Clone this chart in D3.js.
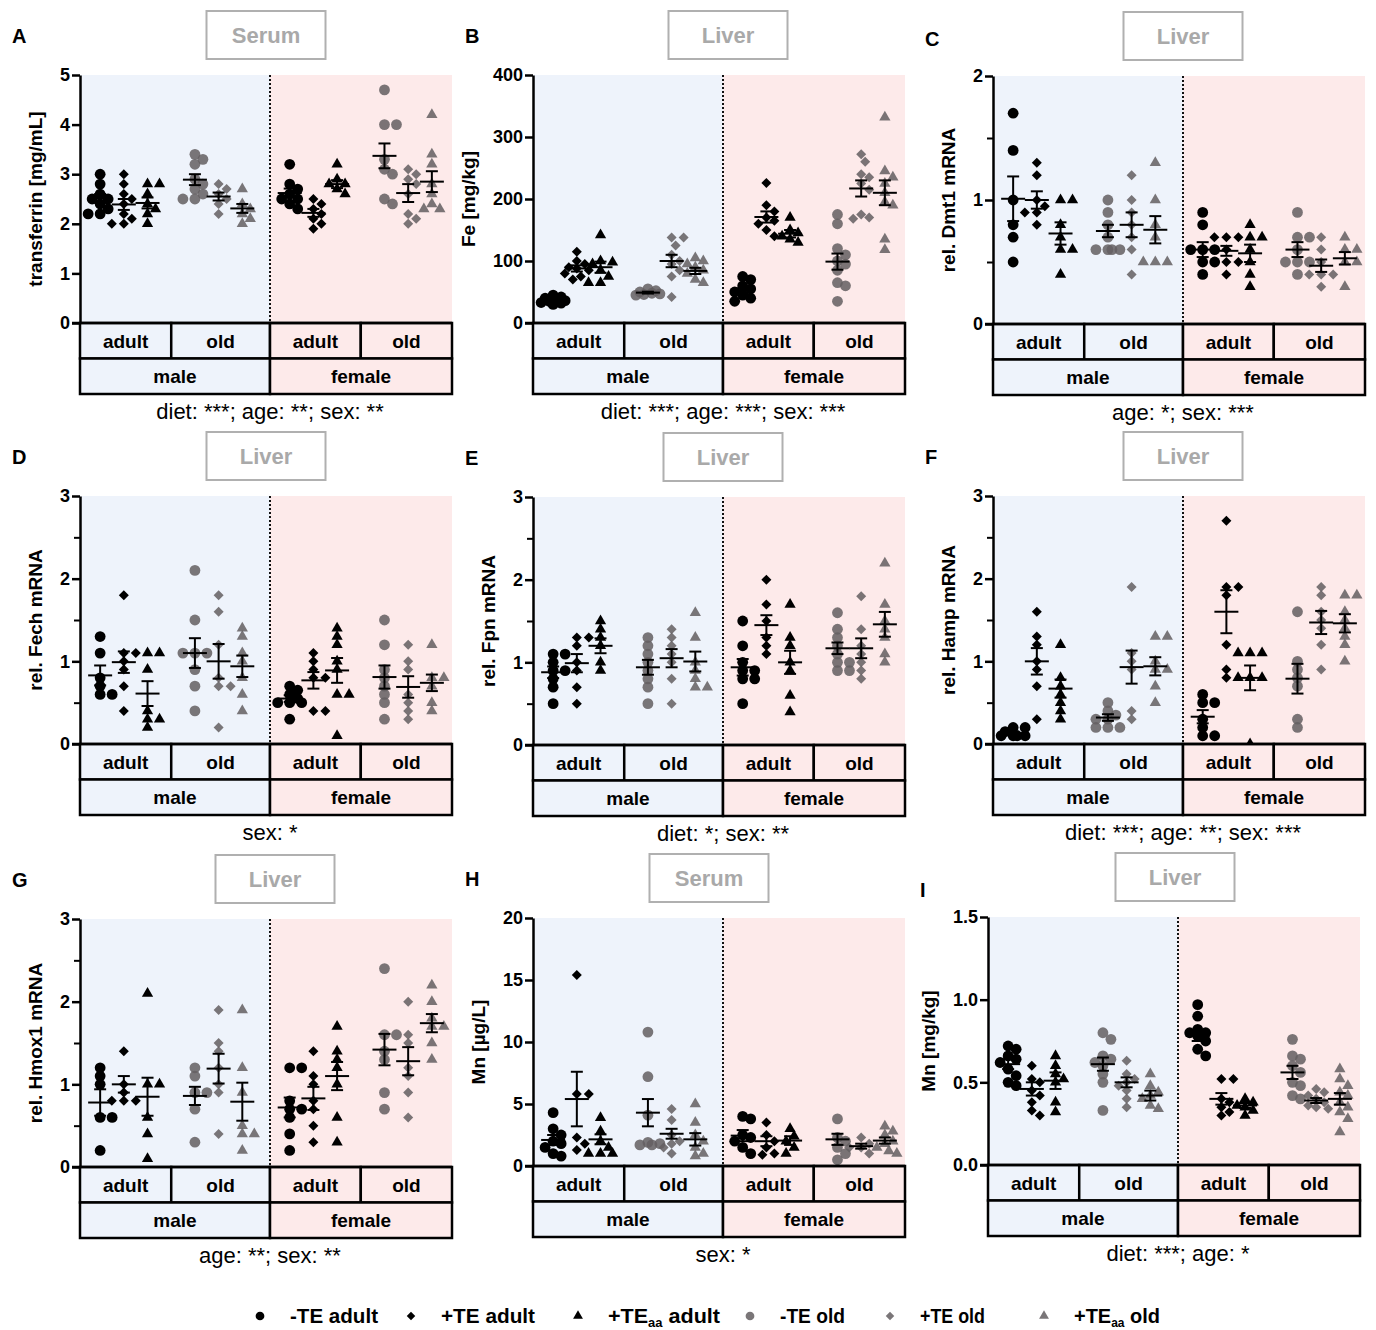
<!DOCTYPE html>
<html>
<head>
<meta charset="utf-8">
<script src="https://cdn.jsdelivr.net/npm/d3@7"></script>
<style>
  body { margin: 0; background: #fff; }
  svg { display: block; }
  text { font-family: "Liberation Sans", Arial, sans-serif; }
</style>
</head>
<body>
<svg id="chart" width="1376" height="1330"></svg>
<script>
// x axis groups: sex x age, three diets each
var sexes = ["male", "female"];
var ages = ["adult", "old"];
var diets = ["-TE", "+TE", "+TEaa"];
// order of the 12 series in every panel:
// male adult (-TE,+TE,+TEaa), male old, female adult, female old

// A - serum transferrin [mg/mL]
var transferrin = [
  [3.0,2.8,2.6,2.5,2.5,2.4,2.3,2.2,2.2], [3.0,2.8,2.6,2.5,2.4,2.2,2.1,2.0,2.0], [2.8,2.8,2.6,2.4,2.3,2.2,2.0],
  [3.4,3.3,3.2,2.9,2.8,2.7,2.6,2.5,2.5], [2.8,2.7,2.6,2.5,2.4,2.2], [2.7,2.4,2.3,2.2,2.1,2.0],
  [3.2,2.8,2.7,2.6,2.5,2.5,2.4,2.3], [2.5,2.4,2.3,2.2,2.1,2.0,1.9], [3.2,2.9,2.8,2.8,2.7,2.6],
  [4.7,4.0,4.0,3.3,3.1,3.0,2.5,2.4], [3.1,3.0,2.9,2.8,2.6,2.2,2.1,2.0], [4.2,3.4,3.2,2.8,2.6,2.4,2.3,2.3]];
var transferrinMean = [2.51,2.39,2.42,2.89,2.55,2.31,2.62,2.22,2.8,3.37,2.62,2.85];
var transferrinSem = [0.09,0.11,0.11,0.11,0.08,0.09,0.09,0.08,0.08,0.25,0.18,0.21];

// B - liver Fe [mg/kg]
var liverFe = [
  [45,42,40,38,36,35,33,32,30], [115,100,95,90,88,85,80,75,70], [142,100,98,95,85,75,65,65],
  [55,52,50,48,47,46,45], [138,138,125,110,100,95,85,75,42], [105,100,95,90,85,80,70,65],
  [75,70,60,55,50,45,40,35], [226,190,180,170,165,160,150,140], [170,150,145,140,135,130],
  [175,160,120,110,100,95,85,65,60,35], [272,260,240,235,225,215,175,170,168], [332,245,235,225,210,195,190,135,118]];
var liverFeMean = [35,88,90,49,100,84,52,171,144,99,217,210];
var liverFeSem = [2,5,9,1.5,10,5,4,9,6,13,13,20];

// C - rel. Dmt1 mRNA
var dmt1 = [
  [1.7,1.4,1.0,0.8,0.7,0.5], [1.3,1.2,1.0,0.95,0.9,0.9,0.8], [1.0,1.0,0.8,0.7,0.6,0.6,0.4],
  [1.0,0.9,0.8,0.7,0.6,0.6,0.6,0.6], [1.2,1.0,0.9,0.8,0.7,0.6,0.4], [1.3,1.0,0.8,0.7,0.5,0.5,0.5],
  [0.9,0.8,0.6,0.6,0.6,0.5,0.5,0.4], [0.7,0.7,0.7,0.6,0.5,0.5,0.4], [0.8,0.7,0.7,0.6,0.5,0.4,0.3],
  [0.9,0.7,0.7,0.6,0.5,0.5,0.5,0.4], [0.7,0.6,0.5,0.4,0.4,0.4,0.3], [0.7,0.6,0.6,0.5,0.5,0.3]];
var dmt1Mean = [1.01,1.0,0.73,0.75,0.8,0.76,0.6,0.59,0.57,0.6,0.47,0.53];
var dmt1Sem = [0.18,0.07,0.09,0.05,0.1,0.11,0.06,0.04,0.07,0.06,0.05,0.05];

// D - rel. Fech mRNA
var fech = [
  [1.3,1.1,0.8,0.7,0.6,0.6], [1.8,1.1,1.1,1.0,0.9,0.7,0.4], [1.1,1.1,0.9,0.4,0.3,0.3,0.2],
  [2.1,1.5,1.1,1.1,1.1,0.9,0.7,0.4], [1.8,1.6,1.2,0.8,0.7,0.7,0.2], [1.4,1.3,1.1,1.0,0.8,0.6,0.4],
  [0.7,0.65,0.6,0.55,0.5,0.5,0.5,0.3], [1.1,1.0,0.9,0.8,0.8,0.4,0.4], [1.4,1.3,1.2,1.0,0.9,0.6,0.6,0.1],
  [1.5,1.2,0.9,0.8,0.7,0.6,0.5,0.3], [1.2,1.0,0.9,0.6,0.5,0.4,0.3], [1.2,0.8,0.8,0.7,0.5,0.4]];
var fechMean = [0.83,0.99,0.61,1.1,1.0,0.94,0.55,0.77,0.89,0.81,0.69,0.74];
var fechSem = [0.12,0.13,0.15,0.18,0.21,0.13,0.04,0.1,0.15,0.14,0.13,0.1];

// E - rel. Fpn mRNA
var fpn = [
  [1.1,1.1,1.0,0.9,0.9,0.8,0.7,0.5], [1.3,1.3,1.2,1.0,0.9,0.7,0.5], [1.5,1.4,1.3,1.2,1.0,0.9],
  [1.3,1.2,1.1,1.0,0.9,0.8,0.7,0.5], [1.4,1.3,1.2,1.1,1.0,0.8,0.5], [1.6,1.3,1.0,0.9,0.8,0.7,0.7],
  [1.5,1.2,1.0,0.9,0.9,0.8,0.8,0.5], [2.0,1.7,1.5,1.3,1.2,1.1], [1.7,1.3,1.2,1.0,0.9,0.6,0.4],
  [1.6,1.4,1.3,1.2,1.1,1.0,1.0,0.9,0.9], [1.8,1.4,1.2,1.1,1.0,0.9,0.8], [2.2,1.7,1.5,1.4,1.3,1.1,1.0]];
var fpnMean = [0.88,0.99,1.2,0.94,1.05,1.01,0.94,1.45,1.0,1.17,1.17,1.46];
var fpnSem = [0.07,0.11,0.09,0.09,0.11,0.12,0.1,0.12,0.14,0.07,0.12,0.15];

// F - rel. Hamp mRNA
var hamp = [
  [0.2,0.2,0.15,0.1,0.1,0.1,0.1], [1.6,1.3,1.2,1.0,0.9,0.7,0.3], [1.2,0.8,0.7,0.6,0.5,0.4,0.3],
  [0.5,0.4,0.35,0.3,0.3,0.2,0.2,0.2], [1.9,1.1,1.0,0.9,0.4,0.3], [1.3,1.3,1.0,0.9,0.9,0.7,0.5],
  [0.6,0.5,0.5,0.3,0.2,0.1,0.1], [2.7,1.9,1.9,1.8,1.2,0.9,0.8], [1.1,1.1,1.1,0.8,0.8,0.8,0.0],
  [1.6,1.0,0.9,0.8,0.7,0.3,0.2], [1.9,1.8,1.6,1.5,1.4,1.2,0.9], [1.8,1.8,1.6,1.5,1.4,1.3,1.2,1.0]];
var hampMean = [0.13,1.0,0.67,0.32,0.93,0.94,0.33,1.6,0.8,0.79,1.47,1.46];
var hampSem = [0.02,0.16,0.11,0.04,0.2,0.11,0.08,0.26,0.15,0.18,0.14,0.11];

// G - rel. Hmox1 mRNA
var hmox1 = [
  [1.2,1.1,1.0,0.6,0.6,0.2], [1.4,1.0,0.9,0.8,0.8,0.8], [2.1,1.0,1.0,0.6,0.4,0.1],
  [1.2,1.1,0.9,0.9,0.7,0.3], [1.9,1.5,1.4,1.2,1.0,0.9,0.4], [1.9,1.2,0.9,0.5,0.4,0.4,0.2],
  [1.2,1.2,0.8,0.7,0.7,0.6,0.4,0.2], [1.4,1.1,1.0,0.8,0.7,0.5,0.3], [1.7,1.4,1.3,1.2,1.0,0.6,0.3],
  [2.4,1.6,1.6,1.4,1.3,0.9,0.7], [2.0,1.6,1.5,1.2,1.1,0.9,0.6], [2.2,2.0,1.8,1.7,1.7,1.5,1.3]];
var hmox1Mean = [0.78,1.0,0.85,0.86,1.19,0.79,0.72,0.83,1.1,1.42,1.28,1.74];
var hmox1Sem = [0.16,0.1,0.23,0.11,0.18,0.23,0.12,0.14,0.17,0.19,0.17,0.11];

// H - serum Mn [µg/L]
var serumMn = [
  [4.3,3.0,2.5,2.0,1.8,1.5,1.0,0.8], [15.4,5.8,5.8,2.3,1.8,1.3], [3.9,2.8,2.0,1.5,1.0,1.0,1.0],
  [10.8,7.2,4.1,1.9,1.8,1.7,1.7], [4.6,3.7,2.5,2.0,1.8,1.5,1.0], [5.0,3.5,2.5,2.0,1.5,1.0,0.8],
  [4.0,3.8,2.5,2.3,2.0,1.5,1.0], [3.5,2.5,2.0,1.5,1.0,0.9], [3.0,2.4,2.0,1.5,1.0],
  [3.8,2.3,2.0,1.5,1.0,0.5], [2.3,1.8,1.5,1.5,1.0], [3.2,2.8,2.5,2.0,1.8,1.5,1.2,1.0]];
var serumMnMean = [2.1,5.4,2.15,4.3,2.6,2.15,2.45,2.0,2.05,2.15,1.6,2.05];
var serumMnSem = [0.4,2.2,0.4,1.1,0.4,0.5,0.45,0.4,0.35,0.45,0.2,0.25];

// I - liver Mn [mg/kg]
var liverMn = [
  [0.72,0.7,0.66,0.64,0.62,0.58,0.54,0.5,0.48], [0.6,0.52,0.5,0.45,0.42,0.38,0.33,0.3], [0.66,0.6,0.55,0.52,0.5,0.38,0.32],
  [0.8,0.76,0.66,0.64,0.62,0.6,0.55,0.5,0.33], [0.63,0.55,0.52,0.5,0.48,0.45,0.4,0.35], [0.55,0.48,0.44,0.42,0.4,0.36,0.34],
  [0.97,0.9,0.82,0.8,0.8,0.78,0.75,0.7,0.66], [0.52,0.52,0.4,0.38,0.35,0.32,0.3], [0.4,0.38,0.36,0.35,0.33,0.3],
  [0.76,0.66,0.64,0.6,0.56,0.5,0.48,0.42,0.4], [0.46,0.44,0.42,0.4,0.38,0.36,0.35,0.34], [0.58,0.52,0.48,0.44,0.42,0.38,0.35,0.32,0.28,0.2]];
var liverMnMean = [0.61,0.46,0.51,0.61,0.5,0.42,0.78,0.4,0.36,0.56,0.39,0.4];
var liverMnSem = [0.03,0.04,0.05,0.04,0.03,0.03,0.03,0.035,0.015,0.04,0.015,0.035];

var legendLabels = ["-TE adult", "+TE adult", "+TEaa adult", "-TE old", "+TE old", "+TEaa old"];

// panel setup (x,y = top left of plot area)
var panels = [
  {id:"A", tissue:"Serum", label:"transferrin [mg/mL]", vals:transferrin, mean:transferrinMean, sem:transferrinSem,
   max:5, ticks:[0,1,2,3,4,5], minor:[], fmt:"d", stats:"diet: ***; age: **; sex: **", x:80, y:75, tdx:-4, ldy:0},
  {id:"B", tissue:"Liver", label:"Fe [mg/kg]", vals:liverFe, mean:liverFeMean, sem:liverFeSem,
   max:400, ticks:[0,100,200,300,400], minor:[], fmt:"d", stats:"diet: ***; age: ***; sex: ***", x:533, y:75, tdx:5, ldy:0},
  {id:"C", tissue:"Liver", label:"rel. Dmt1 mRNA", vals:dmt1, mean:dmt1Mean, sem:dmt1Sem,
   max:2, ticks:[0,1,2], minor:[0.5,1.5], fmt:"d", stats:"age: *; sex: ***", x:993, y:76, tdx:0, ldy:2},
  {id:"D", tissue:"Liver", label:"rel. Fech mRNA", vals:fech, mean:fechMean, sem:fechSem,
   max:3, ticks:[0,1,2,3], minor:[0.5,1.5,2.5], fmt:"d", stats:"sex: *", x:80, y:496, tdx:-4, ldy:0},
  {id:"E", tissue:"Liver", label:"rel. Fpn mRNA", vals:fpn, mean:fpnMean, sem:fpnSem,
   max:3, ticks:[0,1,2,3], minor:[0.5,1.5,2.5], fmt:"d", stats:"diet: *; sex: **", x:533, y:497, tdx:0, ldy:0},
  {id:"F", tissue:"Liver", label:"rel. Hamp mRNA", vals:hamp, mean:hampMean, sem:hampSem,
   max:3, ticks:[0,1,2,3], minor:[0.5,1.5,2.5], fmt:"d", stats:"diet: ***; age: **; sex: ***", x:993, y:496, tdx:0, ldy:0},
  {id:"G", tissue:"Liver", label:"rel. Hmox1 mRNA", vals:hmox1, mean:hmox1Mean, sem:hmox1Sem,
   max:3, ticks:[0,1,2,3], minor:[0.5,1.5,2.5], fmt:"d", stats:"age: **; sex: **", x:80, y:919, tdx:5, ldy:0},
  {id:"H", tissue:"Serum", label:"Mn [µg/L]", vals:serumMn, mean:serumMnMean, sem:serumMnSem,
   max:20, ticks:[0,5,10,15,20], minor:[], fmt:"d", stats:"sex: *", x:533, y:918, tdx:-14, ldy:0},
  {id:"I", tissue:"Liver", label:"Mn [mg/kg]", vals:liverMn, mean:liverMnMean, sem:liverMnSem,
   max:1.5, ticks:[0,0.5,1,1.5], minor:[], fmt:".1f", stats:"diet: ***; age: *", x:988, y:917, tdx:-3, ldy:12}
];

var W = 372, H = 248, R = 5.4;
var maleBg = "#eef3fb", femaleBg = "#fdeaea";
var grey = "rgba(100,96,98,0.86)";

var svg = d3.select("#chart");

var shapes = [
  d3.symbol().type(d3.symbolCircle).size(Math.PI * R * R)(),
  d3.symbol().type(d3.symbolSquare).size(50)(),
  d3.symbol().type(d3.symbolTriangle).size(55)()
];
var legendShapes = [
  d3.symbol().type(d3.symbolCircle).size(60)(),
  d3.symbol().type(d3.symbolSquare).size(36)(),
  d3.symbol().type(d3.symbolTriangle).size(42)()
];

// compact scatter: nudge overlapping points sideways, but keep the column narrow
var offsets = [0, 4, -4, 8, -8, 12, -12];
function swarm(vals, cx, y) {
  var placed = [];
  vals.slice().sort(function(a, b) { return b - a; }).forEach(function(v) {
    var py = y(v), best = 0, bestD = -1;
    for (var k = 0; k < offsets.length; k++) {
      var px = cx + offsets[k];
      var d = d3.min(placed, function(p) { return Math.hypot(p.x - px, p.y - py); });
      if (d === undefined) d = Infinity;
      if (d >= R * 1.5) { best = offsets[k]; bestD = d; break; }
      if (d > bestD) { bestD = d; best = offsets[k]; }
    }
    placed.push({x: cx + best, y: py});
  });
  return placed;
}

panels.forEach(function(p) {
  var g = svg.append("g").attr("transform", "translate(" + p.x + "," + p.y + ")");

  var y = d3.scaleLinear().domain([0, p.max]).range([H, 0]);
  // 15 slots: 4 groups x 3 diets with an empty slot between groups
  var x = d3.scalePoint().domain(d3.range(15)).range([0, W]).padding(0.85);
  var ageSplit1 = x(3), sexSplit = x(7) + 4, ageSplit2 = x(11);

  // backgrounds
  g.append("rect").attr("x", 0).attr("y", 0).attr("width", sexSplit).attr("height", H).attr("fill", maleBg);
  g.append("rect").attr("x", sexSplit).attr("y", 0).attr("width", W - sexSplit).attr("height", H).attr("fill", femaleBg);

  g.append("line")
    .attr("x1", sexSplit).attr("x2", sexSplit).attr("y1", 0).attr("y2", H)
    .attr("stroke", "#111").attr("stroke-width", 2).attr("stroke-dasharray", "2,2");

  // points
  p.vals.forEach(function(vals, i) {
    var grp = Math.floor(i / 3), diet = i % 3;
    var cx = x(grp * 4 + diet);
    var col = (grp % 2 === 0) ? "#000" : grey;
    swarm(vals, cx, y).forEach(function(pt) {
      g.append("path")
        .attr("d", shapes[diet])
        .attr("transform", "translate(" + pt.x + "," + pt.y + ")" + (diet === 1 ? " rotate(45)" : ""))
        .attr("fill", col);
    });
  });

  // mean +- SEM
  p.mean.forEach(function(m, i) {
    var grp = Math.floor(i / 3), diet = i % 3;
    var cx = x(grp * 4 + diet);
    var s = p.sem[i];
    var eg = g.append("g").attr("stroke", "#000").attr("stroke-width", 2);
    eg.append("line").attr("x1", cx - 12).attr("x2", cx + 12).attr("y1", y(m)).attr("y2", y(m));
    eg.append("line").attr("x1", cx).attr("x2", cx).attr("y1", y(m - s)).attr("y2", y(m + s));
    eg.append("line").attr("x1", cx - 6).attr("x2", cx + 6).attr("y1", y(m + s)).attr("y2", y(m + s));
    eg.append("line").attr("x1", cx - 6).attr("x2", cx + 6).attr("y1", y(m - s)).attr("y2", y(m - s));
  });

  // y axis
  var ax = g.append("g").attr("class", "yaxis")
    .call(d3.axisLeft(y).tickValues(p.ticks).tickSize(8).tickSizeOuter(0).tickFormat(d3.format(p.fmt)));
  ax.select(".domain").attr("stroke-width", 2.5);
  ax.selectAll(".tick line").attr("stroke-width", 2.5);
  ax.selectAll(".tick text").attr("font-size", 18).attr("font-weight", "bold")
    .attr("font-family", "'Liberation Sans', Arial, sans-serif").attr("fill", "#000").attr("x", -10);
  if (p.minor.length) {
    var mx = g.append("g")
      .call(d3.axisLeft(y).tickValues(p.minor).tickSize(6).tickFormat(""));
    mx.select(".domain").remove();
    mx.selectAll(".tick line").attr("stroke-width", 2);
  }
  var bb = ax.node().getBBox();
  g.append("text")
    .attr("transform", "translate(" + (bb.x - 18) + "," + (H / 2) + ") rotate(-90)")
    .attr("text-anchor", "middle")
    .attr("font-size", 19).attr("font-weight", "bold")
    .text(p.label);

  // category table
  var rowH = 35.5;
  var cells = [
    {x0: 0, x1: ageSplit1, row: 0, t: ages[0], fill: maleBg},
    {x0: ageSplit1, x1: sexSplit, row: 0, t: ages[1], fill: maleBg},
    {x0: sexSplit, x1: ageSplit2, row: 0, t: ages[0], fill: femaleBg},
    {x0: ageSplit2, x1: W, row: 0, t: ages[1], fill: femaleBg},
    {x0: 0, x1: sexSplit, row: 1, t: sexes[0], fill: maleBg},
    {x0: sexSplit, x1: W, row: 1, t: sexes[1], fill: femaleBg}
  ];
  cells.forEach(function(c) {
    g.append("rect")
      .attr("x", c.x0).attr("y", H + c.row * rowH)
      .attr("width", c.x1 - c.x0).attr("height", rowH)
      .attr("fill", c.fill).attr("stroke", "#000").attr("stroke-width", 2.5);
    g.append("text")
      .attr("x", (c.x0 + c.x1) / 2).attr("y", H + c.row * rowH + rowH / 2 + 7)
      .attr("text-anchor", "middle").attr("font-size", 19).attr("font-weight", "bold")
      .text(c.t);
  });
  // x axis line at zero (extends under the tick)
  g.append("line").attr("x1", -8).attr("x2", W).attr("y1", H).attr("y2", H)
    .attr("stroke", "#000").attr("stroke-width", 2.5);

  // statistics
  g.append("text")
    .attr("x", sexSplit).attr("y", H + 96)
    .attr("text-anchor", "middle").attr("font-size", 22)
    .text(p.stats);

  // tissue box
  var bx = sexSplit + p.tdx;
  g.append("rect")
    .attr("x", bx - 59.5).attr("y", -64).attr("width", 119).attr("height", 48)
    .attr("fill", "#fff").attr("stroke", "#b0b0b0").attr("stroke-width", 2);
  g.append("text")
    .attr("x", bx).attr("y", -32)
    .attr("text-anchor", "middle").attr("font-size", 22).attr("font-weight", "bold")
    .attr("fill", "#a9a9a9")
    .text(p.tissue);

  // panel letter
  g.append("text")
    .attr("x", -68).attr("y", -32 + p.ldy)
    .attr("font-size", 20).attr("font-weight", "bold")
    .text(p.id);
});

// legend
var legX = [260, 411, 578, 750, 890, 1044];
var legW = [88, 94, 112, 65, 65, 86];
var leg = svg.append("g").attr("transform", "translate(0,1316)");
legendLabels.forEach(function(lab, i) {
  var diet = i % 3, col = i < 3 ? "#000" : grey;
  leg.append("path")
    .attr("d", legendShapes[diet])
    .attr("transform", "translate(" + legX[i] + ",0)" + (diet === 1 ? " rotate(45)" : ""))
    .attr("fill", col);
  var t = leg.append("text")
    .attr("x", legX[i] + 30).attr("y", 7)
    .attr("font-size", 20).attr("font-weight", "bold")
    .attr("font-family", "'Liberation Sans Narrow', 'Liberation Sans', Arial, sans-serif")
    .attr("textLength", legW[i]).attr("lengthAdjust", "spacingAndGlyphs");
  if (lab.indexOf("TEaa") >= 0) {
    var parts = lab.split("aa");
    t.append("tspan").text(parts[0]);
    t.append("tspan").attr("font-size", 12).attr("dy", 4).text("aa");
    t.append("tspan").attr("dy", -4).text(parts[1]);
  } else {
    t.text(lab);
  }
});
</script>
</body>
</html>
